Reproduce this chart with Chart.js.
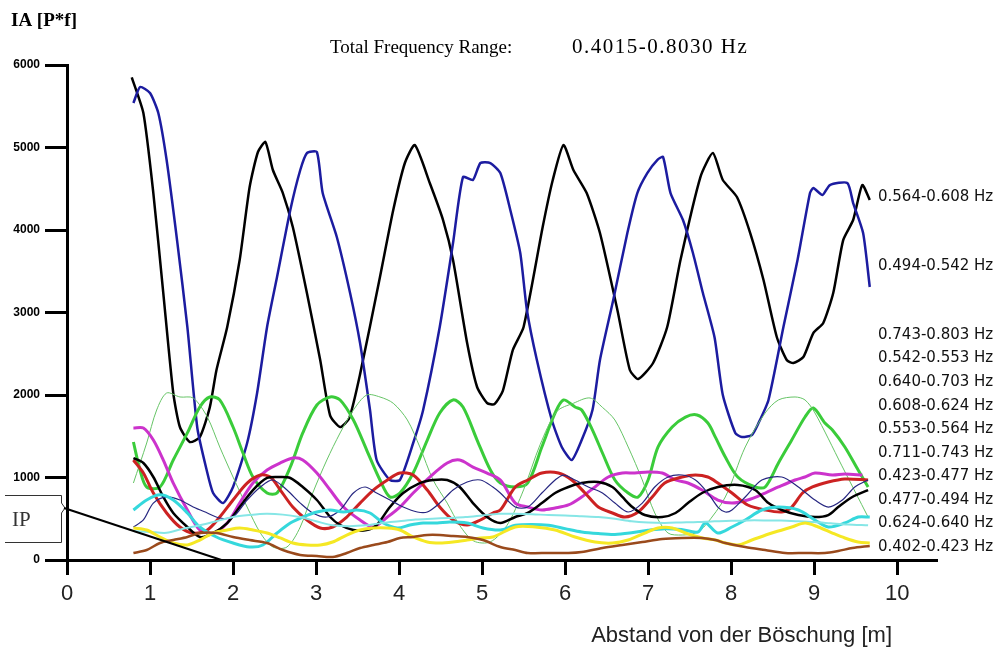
<!DOCTYPE html>
<html>
<head>
<meta charset="utf-8">
<title>IA</title>
<script src="https://cdn.jsdelivr.net/npm/chart.js@4.4.1/dist/chart.umd.min.js"></script>
<style>
  html, body { margin: 0; padding: 0; background: #fff; }
  #chart { display: block; }
</style>
</head>
<body>
<canvas id="chart" width="1001" height="649"></canvas>
<script>
// Achsen
const xTicks = [0, 1, 2, 3, 4, 5, 6, 7, 8, 9, 10];
const yTicks = [0, 1000, 2000, 3000, 4000, 5000, 6000];

// Frequenzbänder (Reihenfolge wie rechts am Rand)
const bandLabels = [
    '0.564-0.608 Hz', '0.494-0.542 Hz',
    '0.743-0.803 Hz', '0.542-0.553 Hz', '0.640-0.703 Hz', '0.608-0.624 Hz', '0.553-0.564 Hz',
    '0.711-0.743 Hz', '0.423-0.477 Hz', '0.477-0.494 Hz', '0.624-0.640 Hz', '0.402-0.423 Hz'
];

// Werte [Abstand m, IA]
const band_564_608 = [[0.78,5850],[0.92,5418],[1.04,4448],[1.16,3236],[1.28,2024],[1.36,1612],[1.48,1430],[1.6,1490],[1.72,1850],[1.8,2300],[1.93,2824],[2.08,3636],[2.2,4521],[2.3,4945],[2.39,5067],[2.48,4727],[2.6,4448],[2.72,4036],[2.89,3236],[3.05,2424],[3.17,1750],[3.29,1612],[3.4,1720],[3.53,2250],[3.77,3430],[3.93,4242],[4.07,4812],[4.19,5030],[4.37,4570],[4.53,4121],[4.65,3636],[4.82,2630],[4.94,2097],[5.06,1903],[5.15,1890],[5.25,2050],[5.37,2545],[5.5,2824],[5.73,4036],[5.85,4600],[5.98,5030],[6.1,4727],[6.26,4448],[6.42,3963],[6.63,3030],[6.78,2303],[6.88,2194],[7.06,2388],[7.23,2824],[7.39,3636],[7.63,4642],[7.78,4933],[7.9,4606],[8.07,4400],[8.23,3963],[8.39,3394],[8.55,2703],[8.67,2424],[8.75,2388],[8.87,2460],[8.99,2751],[9.11,2873],[9.23,3236],[9.35,3878],[9.47,4121],[9.58,4545],[9.67,4364]];
const band_494_542 = [[0.8,5539],[0.88,5733],[1.0,5660],[1.1,5418],[1.2,4848],[1.33,3842],[1.45,2824],[1.57,1600],[1.68,1100],[1.76,812],[1.88,690],[2.0,885],[2.17,1418],[2.29,2024],[2.41,2824],[2.53,3430],[2.69,4242],[2.81,4727],[2.89,4933],[3.01,4945],[3.08,4448],[3.25,3915],[3.41,3236],[3.53,2630],[3.65,1818],[3.73,1212],[3.89,970],[4.01,970],[4.17,1418],[4.29,1818],[4.49,2824],[4.65,3842],[4.77,4642],[4.89,4606],[4.98,4812],[5.1,4812],[5.22,4690],[5.34,4242],[5.46,3721],[5.54,3030],[5.66,2424],[5.84,1697],[5.96,1370],[6.08,1212],[6.2,1454],[6.33,1818],[6.42,2424],[6.58,3151],[6.75,3963],[6.87,4448],[6.99,4690],[7.11,4848],[7.18,4885],[7.27,4448],[7.42,4121],[7.54,3721],[7.66,3236],[7.8,2700],[7.9,2000],[8.05,1540],[8.13,1490],[8.25,1515],[8.33,1660],[8.45,1940],[8.63,2824],[8.8,3636],[8.95,4448],[8.99,4509],[9.1,4424],[9.19,4545],[9.4,4570],[9.47,4327],[9.59,3963],[9.67,3309]];
const band_743_803 = [[0.8,933],[0.96,1418],[1.08,1818],[1.2,2024],[1.36,1976],[1.52,1964],[1.69,1733],[1.84,1370],[2.0,1006],[2.17,642],[2.33,327],[2.48,158],[2.65,158],[2.81,400],[2.96,812],[3.13,1212],[3.29,1540],[3.45,1818],[3.61,2000],[3.77,1976],[3.93,1900],[4.1,1697],[4.25,1370],[4.41,970],[4.58,690],[4.73,420],[4.9,230],[5.1,220],[5.3,420],[5.5,850],[5.7,1400],[5.9,1800],[6.1,1900],[6.3,1964],[6.45,1850],[6.6,1697],[6.76,1370],[6.93,970],[7.08,570],[7.24,327],[7.41,303],[7.57,327],[7.69,420],[7.93,764],[8.17,1370],[8.41,1782],[8.57,1940],[8.77,1976],[8.89,1940],[9.01,1782],[9.33,1150],[9.65,520]];
const band_542_553 = [[0.8,1430],[0.88,1090],[0.96,885],[1.12,885],[1.28,1212],[1.45,1540],[1.6,1855],[1.72,1976],[1.84,1940],[2.0,1612],[2.12,1297],[2.24,1006],[2.41,812],[2.53,812],[2.69,1127],[2.84,1540],[3.01,1879],[3.17,1976],[3.29,1940],[3.45,1697],[3.61,1333],[3.77,970],[3.89,764],[4.01,812],[4.17,1054],[4.34,1454],[4.49,1782],[4.65,1940],[4.77,1855],[4.94,1454],[5.1,1090],[5.22,933],[5.4,885],[5.55,933],[5.72,1370],[5.88,1782],[5.98,1940],[6.12,1855],[6.2,1818],[6.33,1575],[6.45,1297],[6.6,970],[6.76,812],[6.88,764],[7.0,970],[7.12,1370],[7.29,1612],[7.45,1733],[7.59,1758],[7.72,1660],[7.81,1490],[7.93,1248],[8.08,1006],[8.29,885],[8.41,885],[8.57,1176],[8.73,1454],[8.89,1733],[8.99,1842],[9.13,1660],[9.22,1575],[9.37,1370],[9.53,1090],[9.65,885]];
const band_640_703 = [[0.8,1600],[0.92,1600],[1.04,1454],[1.16,1212],[1.28,933],[1.45,606],[1.6,364],[1.76,327],[1.93,448],[2.08,690],[2.24,933],[2.41,1090],[2.57,1176],[2.72,1236],[2.84,1212],[3.01,1054],[3.17,848],[3.33,642],[3.53,485],[3.69,400],[3.86,521],[4.01,642],[4.17,812],[4.37,1006],[4.58,1176],[4.73,1212],[4.89,1127],[5.06,1054],[5.22,970],[5.4,690],[5.55,642],[5.72,606],[5.88,630],[6.04,667],[6.2,764],[6.36,885],[6.52,1006],[6.69,1054],[6.84,1054],[7.0,1067],[7.17,1054],[7.33,970],[7.48,933],[7.65,848],[7.84,727],[8.01,690],[8.2,727],[8.41,812],[8.57,885],[8.77,970],[8.89,1006],[9.01,1054],[9.22,1030],[9.37,1042],[9.58,1030]];
const band_608_624 = [[0.8,1212],[0.92,1054],[1.04,812],[1.2,570],[1.36,400],[1.52,327],[1.69,364],[1.84,521],[2.0,727],[2.17,933],[2.33,1030],[2.45,1006],[2.57,848],[2.72,642],[2.89,485],[3.05,388],[3.2,400],[3.37,521],[3.53,690],[3.69,848],[3.86,970],[4.01,1054],[4.17,1030],[4.34,848],[4.49,642],[4.65,485],[4.82,424],[4.98,485],[5.13,570],[5.22,606],[5.4,885],[5.55,970],[5.72,1054],[5.92,1054],[6.08,970],[6.24,812],[6.4,642],[6.57,570],[6.72,521],[6.88,582],[7.05,764],[7.2,933],[7.41,1006],[7.57,1030],[7.72,1006],[7.84,933],[8.01,812],[8.2,667],[8.41,606],[8.61,582],[8.73,642],[8.86,812],[8.98,885],[9.17,945],[9.37,982],[9.65,970]];
const band_553_564 = [[0.8,1236],[0.92,1176],[1.04,1006],[1.16,764],[1.28,570],[1.45,400],[1.6,279],[1.76,327],[1.93,448],[2.08,642],[2.24,848],[2.41,994],[2.57,1006],[2.69,994],[2.84,885],[3.01,727],[3.17,521],[3.29,424],[3.45,364],[3.61,364],[3.73,424],[3.89,642],[4.05,812],[4.25,933],[4.41,970],[4.58,970],[4.73,885],[4.89,690],[5.06,521],[5.22,448],[5.4,521],[5.55,570],[5.72,690],[5.88,812],[6.04,885],[6.2,933],[6.4,945],[6.57,885],[6.69,764],[6.81,642],[6.96,545],[7.17,521],[7.33,570],[7.48,690],[7.65,812],[7.84,885],[8.08,909],[8.29,848],[8.45,690],[8.61,606],[8.81,545],[9.01,521],[9.17,545],[9.29,642],[9.46,764],[9.65,848]];
const band_711_743 = [[0.8,400],[0.92,485],[1.04,690],[1.2,764],[1.36,727],[1.52,642],[1.69,570],[1.84,509],[2.0,521],[2.17,727],[2.33,885],[2.48,970],[2.65,848],[2.81,690],[2.96,570],[3.13,521],[3.29,606],[3.45,812],[3.59,885],[3.73,812],[3.89,727],[4.05,642],[4.22,582],[4.34,582],[4.49,690],[4.65,848],[4.82,945],[4.98,970],[5.13,885],[5.22,812],[5.4,642],[5.55,642],[5.72,812],[5.88,970],[5.98,1030],[6.12,970],[6.28,885],[6.45,812],[6.6,690],[6.76,582],[6.93,690],[7.08,885],[7.24,1006],[7.41,1030],[7.57,970],[7.72,812],[7.84,642],[7.93,582],[8.01,606],[8.17,764],[8.37,970],[8.61,1006],[8.81,885],[9.01,727],[9.17,642],[9.34,727],[9.49,885],[9.65,970]];
const band_423_477 = [[0.8,388],[0.96,364],[1.12,279],[1.28,206],[1.45,182],[1.6,242],[1.76,327],[1.93,364],[2.08,388],[2.24,364],[2.41,327],[2.57,267],[2.72,206],[2.89,182],[3.05,182],[3.2,218],[3.37,303],[3.53,364],[3.69,388],[3.86,388],[4.01,364],[4.17,279],[4.34,218],[4.49,206],[4.65,218],[4.82,242],[4.98,267],[5.13,279],[5.4,400],[5.64,400],[5.88,364],[6.12,279],[6.36,218],[6.57,206],[6.76,242],[6.96,327],[7.12,388],[7.29,388],[7.45,327],[7.65,267],[7.81,242],[7.93,206],[8.08,182],[8.25,242],[8.49,327],[8.73,400],[8.89,448],[9.05,400],[9.22,327],[9.37,267],[9.53,218],[9.67,206]];
const band_477_494 = [[0.8,350],[1.0,340],[1.2,330],[1.4,380],[1.6,420],[1.8,470],[2.0,520],[2.2,545],[2.4,560],[2.6,550],[2.8,520],[3.0,470],[3.2,420],[3.4,410],[3.6,420],[3.8,450],[4.0,470],[4.2,490],[4.4,500],[4.6,510],[4.8,520],[5.0,540],[5.2,560],[5.4,560],[5.6,555],[5.8,545],[6.0,540],[6.2,530],[6.4,520],[6.6,500],[6.8,470],[7.0,455],[7.2,450],[7.4,455],[7.6,460],[7.8,470],[8.0,475],[8.2,480],[8.4,480],[8.6,478],[8.8,470],[9.0,460],[9.2,445],[9.4,430],[9.65,420]];
const band_624_640 = [[0.8,606],[0.96,727],[1.12,790],[1.28,727],[1.45,570],[1.6,400],[1.8,279],[2.0,206],[2.2,158],[2.36,182],[2.53,327],[2.69,448],[2.84,521],[3.01,582],[3.17,606],[3.33,582],[3.49,606],[3.65,570],[3.81,448],[3.98,388],[4.13,424],[4.29,448],[4.46,448],[4.61,460],[4.82,448],[5.01,388],[5.22,364],[5.4,420],[5.6,430],[5.8,420],[6.0,380],[6.2,340],[6.4,320],[6.6,310],[6.8,330],[7.0,360],[7.2,380],[7.4,370],[7.6,340],[7.69,448],[7.84,327],[8.01,400],[8.17,485],[8.37,606],[8.57,642],[8.81,606],[9.01,485],[9.17,400],[9.37,448],[9.53,521],[9.67,520]];
const band_402_423 = [[0.8,85],[0.96,121],[1.12,206],[1.28,242],[1.45,279],[1.6,327],[1.8,327],[2.0,279],[2.2,242],[2.41,206],[2.6,121],[2.81,61],[3.01,48],[3.2,36],[3.37,85],[3.53,145],[3.69,182],[3.86,218],[4.01,267],[4.17,279],[4.34,303],[4.49,303],[4.65,291],[4.82,279],[5.01,242],[5.22,158],[5.4,121],[5.55,85],[5.8,85],[6.04,85],[6.2,97],[6.45,145],[6.69,182],[6.93,218],[7.17,255],[7.41,267],[7.65,267],[7.81,242],[7.93,206],[8.17,158],[8.41,121],[8.65,85],[8.89,85],[9.13,85],[9.29,109],[9.46,145],[9.67,170]];

// IP-Markierung: Linie von der Achse bis zum Boden
const ipLine = [[0, 630], [1.86, 0]];

function pts(arr) {
    return arr.map(function(p) { return { x: p[0], y: p[1] }; });
}

function ds(arr, color, width, tension) {
    return {
        data: pts(arr),
        borderColor: color,
        borderWidth: width,
        pointRadius: 0,
        tension: tension,
        fill: false
    };
}

// Beschriftungen zeichnen
const textPlugin = {
    id: 'texts',
    afterDraw: function(chart) {
        const ctx = chart.ctx;
        const xs = chart.scales.x;
        const ys = chart.scales.y;
        ctx.save();

        ctx.fillStyle = '#000';
        ctx.textBaseline = 'alphabetic';
        ctx.textAlign = 'left';
        ctx.font = 'bold 19px "Liberation Serif", serif';
        ctx.fillText('IA [P*f]', 11, 26);

        ctx.font = '19px "Liberation Serif", serif';
        ctx.fillText('Total Frequency Range:', 330, 53);
        ctx.font = '21px "Liberation Serif", serif';
        ctx.letterSpacing = '1.5px';
        ctx.fillText('0.4015-0.8030 Hz', 572, 53);
        ctx.letterSpacing = '0px';

        // Achsentitel
        ctx.fillStyle = '#222';
        ctx.font = '22px "Liberation Sans", Arial, sans-serif';
        ctx.textAlign = 'right';
        ctx.fillText('Abstand von der Böschung [m]', 892, 642);

        // Bandnamen rechts
        ctx.fillStyle = '#111';
        ctx.textAlign = 'left';
        ctx.textBaseline = 'middle';
        ctx.font = '15px "DejaVu Sans", sans-serif';
        ctx.fillText(bandLabels[0], 878, 197);
        ctx.fillText(bandLabels[1], 878, 266);
        for (let i = 2; i < bandLabels.length; i++) {
            ctx.fillText(bandLabels[i], 878, 335 + (i - 2) * 23.55);
        }

        // IP-Kasten
        ctx.strokeStyle = '#333';
        ctx.lineWidth = 1;
        ctx.beginPath();
        ctx.moveTo(5, 495.5);
        ctx.lineTo(61.5, 495.5);
        ctx.lineTo(61.5, 503);
        ctx.lineTo(65, 508);
        ctx.lineTo(61.5, 513);
        ctx.lineTo(61.5, 542.5);
        ctx.lineTo(5, 542.5);
        ctx.stroke();
        ctx.fillStyle = '#333';
        ctx.font = '21px "Liberation Serif", serif';
        ctx.textBaseline = 'alphabetic';
        ctx.fillText('IP', 12, 526);

        ctx.strokeStyle = '#000';
        ctx.lineWidth = 2;
        ctx.beginPath();
        ctx.moveTo(xs.getPixelForValue(ipLine[0][0]) - 3, ys.getPixelForValue(ipLine[0][1]));
        ctx.lineTo(xs.getPixelForValue(ipLine[1][0]), ys.getPixelForValue(ipLine[1][1]));
        ctx.stroke();

        ctx.restore();
    }
};

const chart = new Chart(document.getElementById('chart').getContext('2d'), {
    type: 'line',
    data: {
        datasets: [
            ds(band_402_423, '#9a4a1c', 2.5, 0.3),
            ds(band_423_477, '#f5e824', 3, 0.3),
            ds(band_477_494, '#86e6e6', 2, 0.3),
            ds(band_624_640, '#35d8dc', 3, 0.3),
            ds(band_711_743, '#262680', 1.2, 0.3),
            ds(band_553_564, '#000000', 2.5, 0.3),
            ds(band_608_624, '#cc2222', 3, 0.3),
            ds(band_640_703, '#cc33cc', 3, 0.3),
            ds(band_743_803, '#66c466', 1, 0.3),
            ds(band_542_553, '#3acc3a', 3, 0.3),
            ds(band_494_542, '#1c1ca0', 2.5, 0.2),
            ds(band_564_608, '#000000', 2.5, 0.2)
        ]
    },
    options: {
        responsive: false,
        animation: false,
        devicePixelRatio: 1,
        layout: { padding: { top: 65, right: 64, left: 0, bottom: 0 } },
        plugins: {
            legend: { display: false },
            tooltip: { enabled: false },
            title: { display: false }
        },
        scales: {
            x: {
                type: 'linear',
                min: 0,
                max: 10.48,
                afterFit: function(scale) { scale.height = 89; },
                afterBuildTicks: function(scale) {
                    scale.ticks = xTicks.map(function(v) { return { value: v }; });
                },
                ticks: {
                    color: '#222',
                    font: { family: '"Liberation Sans", Arial, sans-serif', size: 22 },
                    padding: 6,
                    maxRotation: 0,
                    callback: function(v) { return String(v); }
                },
                grid: {
                    display: true,
                    drawOnChartArea: false,
                    drawTicks: true,
                    tickLength: 15,
                    tickWidth: 3,
                    tickColor: '#000'
                },
                border: { display: true, color: '#000', width: 3 }
            },
            y: {
                min: 0,
                max: 6000,
                afterFit: function(scale) { scale.width = 67; },
                afterBuildTicks: function(scale) {
                    scale.ticks = yTicks.map(function(v) { return { value: v }; });
                },
                ticks: {
                    color: '#000',
                    font: { family: '"Liberation Sans", Arial, sans-serif', size: 12, weight: 'bold' },
                    padding: 5,
                    callback: function(v) { return String(v); }
                },
                grid: {
                    display: true,
                    drawOnChartArea: false,
                    drawTicks: true,
                    tickLength: 22,
                    tickWidth: 3,
                    tickColor: '#000'
                },
                border: { display: true, color: '#000', width: 3 }
            }
        }
    },
    plugins: [textPlugin]
});
</script>
</body>
</html>
